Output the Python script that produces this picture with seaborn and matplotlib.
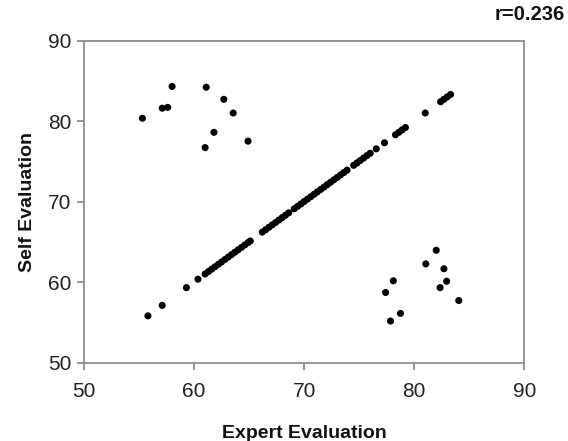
import matplotlib
matplotlib.use("Agg")
import matplotlib.pyplot as plt
import seaborn as sns
import pandas as pd

# ── data ──────────────────────────────────────────────────────────────────────

# points lying on the identity line (expert == self)
diag_expert = [55.8, 57.1, 59.3, 60.35,
               61.0, 61.3, 61.6, 61.9, 62.2, 62.5, 62.8, 63.1, 63.4, 63.7, 64.0, 64.3, 64.6, 64.9, 65.1,
               66.2, 66.5, 66.8, 67.1, 67.4, 67.7, 68.0, 68.3, 68.6,
               69.1, 69.4, 69.7, 70.0, 70.3, 70.6, 70.9, 71.2, 71.5, 71.8, 72.1, 72.4, 72.7, 73.0, 73.3, 73.6, 73.9,
               74.5, 74.8, 75.1, 75.4, 75.7, 76.0,
               76.55, 77.3,
               78.3, 78.6, 78.9, 79.2,
               81.0,
               82.4, 82.7, 83.0, 83.3]
diag_self = [55.8, 57.1, 59.3, 60.35,
             61.0, 61.3, 61.6, 61.9, 62.2, 62.5, 62.8, 63.1, 63.4, 63.7, 64.0, 64.3, 64.6, 64.9, 65.1,
             66.2, 66.5, 66.8, 67.1, 67.4, 67.7, 68.0, 68.3, 68.6,
             69.1, 69.4, 69.7, 70.0, 70.3, 70.6, 70.9, 71.2, 71.5, 71.8, 72.1, 72.4, 72.7, 73.0, 73.3, 73.6, 73.9,
             74.5, 74.8, 75.1, 75.4, 75.7, 76.0,
             76.55, 77.3,
             78.3, 78.6, 78.9, 79.2,
             81.0,
             82.4, 82.7, 83.0, 83.3]

# upper-left cluster (self rates higher than expert)
upper_expert = [58.0, 61.1, 62.7, 57.1, 57.6, 63.55, 55.3, 61.8, 64.9, 61.0]
upper_self   = [84.3, 84.2, 82.7, 81.6, 81.7, 81.0, 80.35, 78.6, 77.5, 76.7]

# lower-right cluster (expert rates higher than self)
lower_expert = [82.0, 81.05, 82.7, 78.1, 82.95, 82.35, 77.4, 84.05, 78.75, 77.85]
lower_self   = [63.95, 62.25, 61.65, 60.15, 60.1, 59.3, 58.7, 57.7, 56.1, 55.15]

r_text = "r=0.236"

df = pd.DataFrame({
    "expert": diag_expert + upper_expert + lower_expert,
    "self":   diag_self + upper_self + lower_self,
})

# ── plot ──────────────────────────────────────────────────────────────────────

sns.set_style("white")
plt.rcParams["font.family"] = ["Liberation Sans", "DejaVu Sans"]

fig = plt.figure(figsize=(5.68, 4.41), dpi=100)
ax = fig.add_axes([0.148, 0.178, 0.775, 0.730])

sns.scatterplot(data=df, x="expert", y="self", ax=ax,
                color="black", s=26, edgecolor="none", linewidth=0)

ax.set_xlim(50, 90)
ax.set_ylim(50, 90)
ax.set_xticks([50, 60, 70, 80, 90])
ax.set_yticks([50, 60, 70, 80, 90])

ax.set_xlabel("Expert Evaluation", fontsize=14, fontweight="bold", labelpad=17,
              color="#111111")
ax.set_ylabel("Self Evaluation", fontsize=14, fontweight="bold", labelpad=9,
              color="#111111")

for spine in ax.spines.values():
    spine.set_color("#8c8c8c")
    spine.set_linewidth(1.3)

ax.tick_params(axis="both", which="major", direction="out", length=5, width=1.3,
               color="#8c8c8c", labelsize=15, labelcolor="#222222")
ax.tick_params(axis="x", bottom=True, top=False, pad=9)
ax.tick_params(axis="y", left=True, right=False, pad=4)

fig.text(0.995, 0.988, r_text, ha="right", va="top",
         fontsize=14.5, fontweight="bold", color="#111111")

fig.savefig("out.png", dpi=100, facecolor="white")
plt.close(fig)
